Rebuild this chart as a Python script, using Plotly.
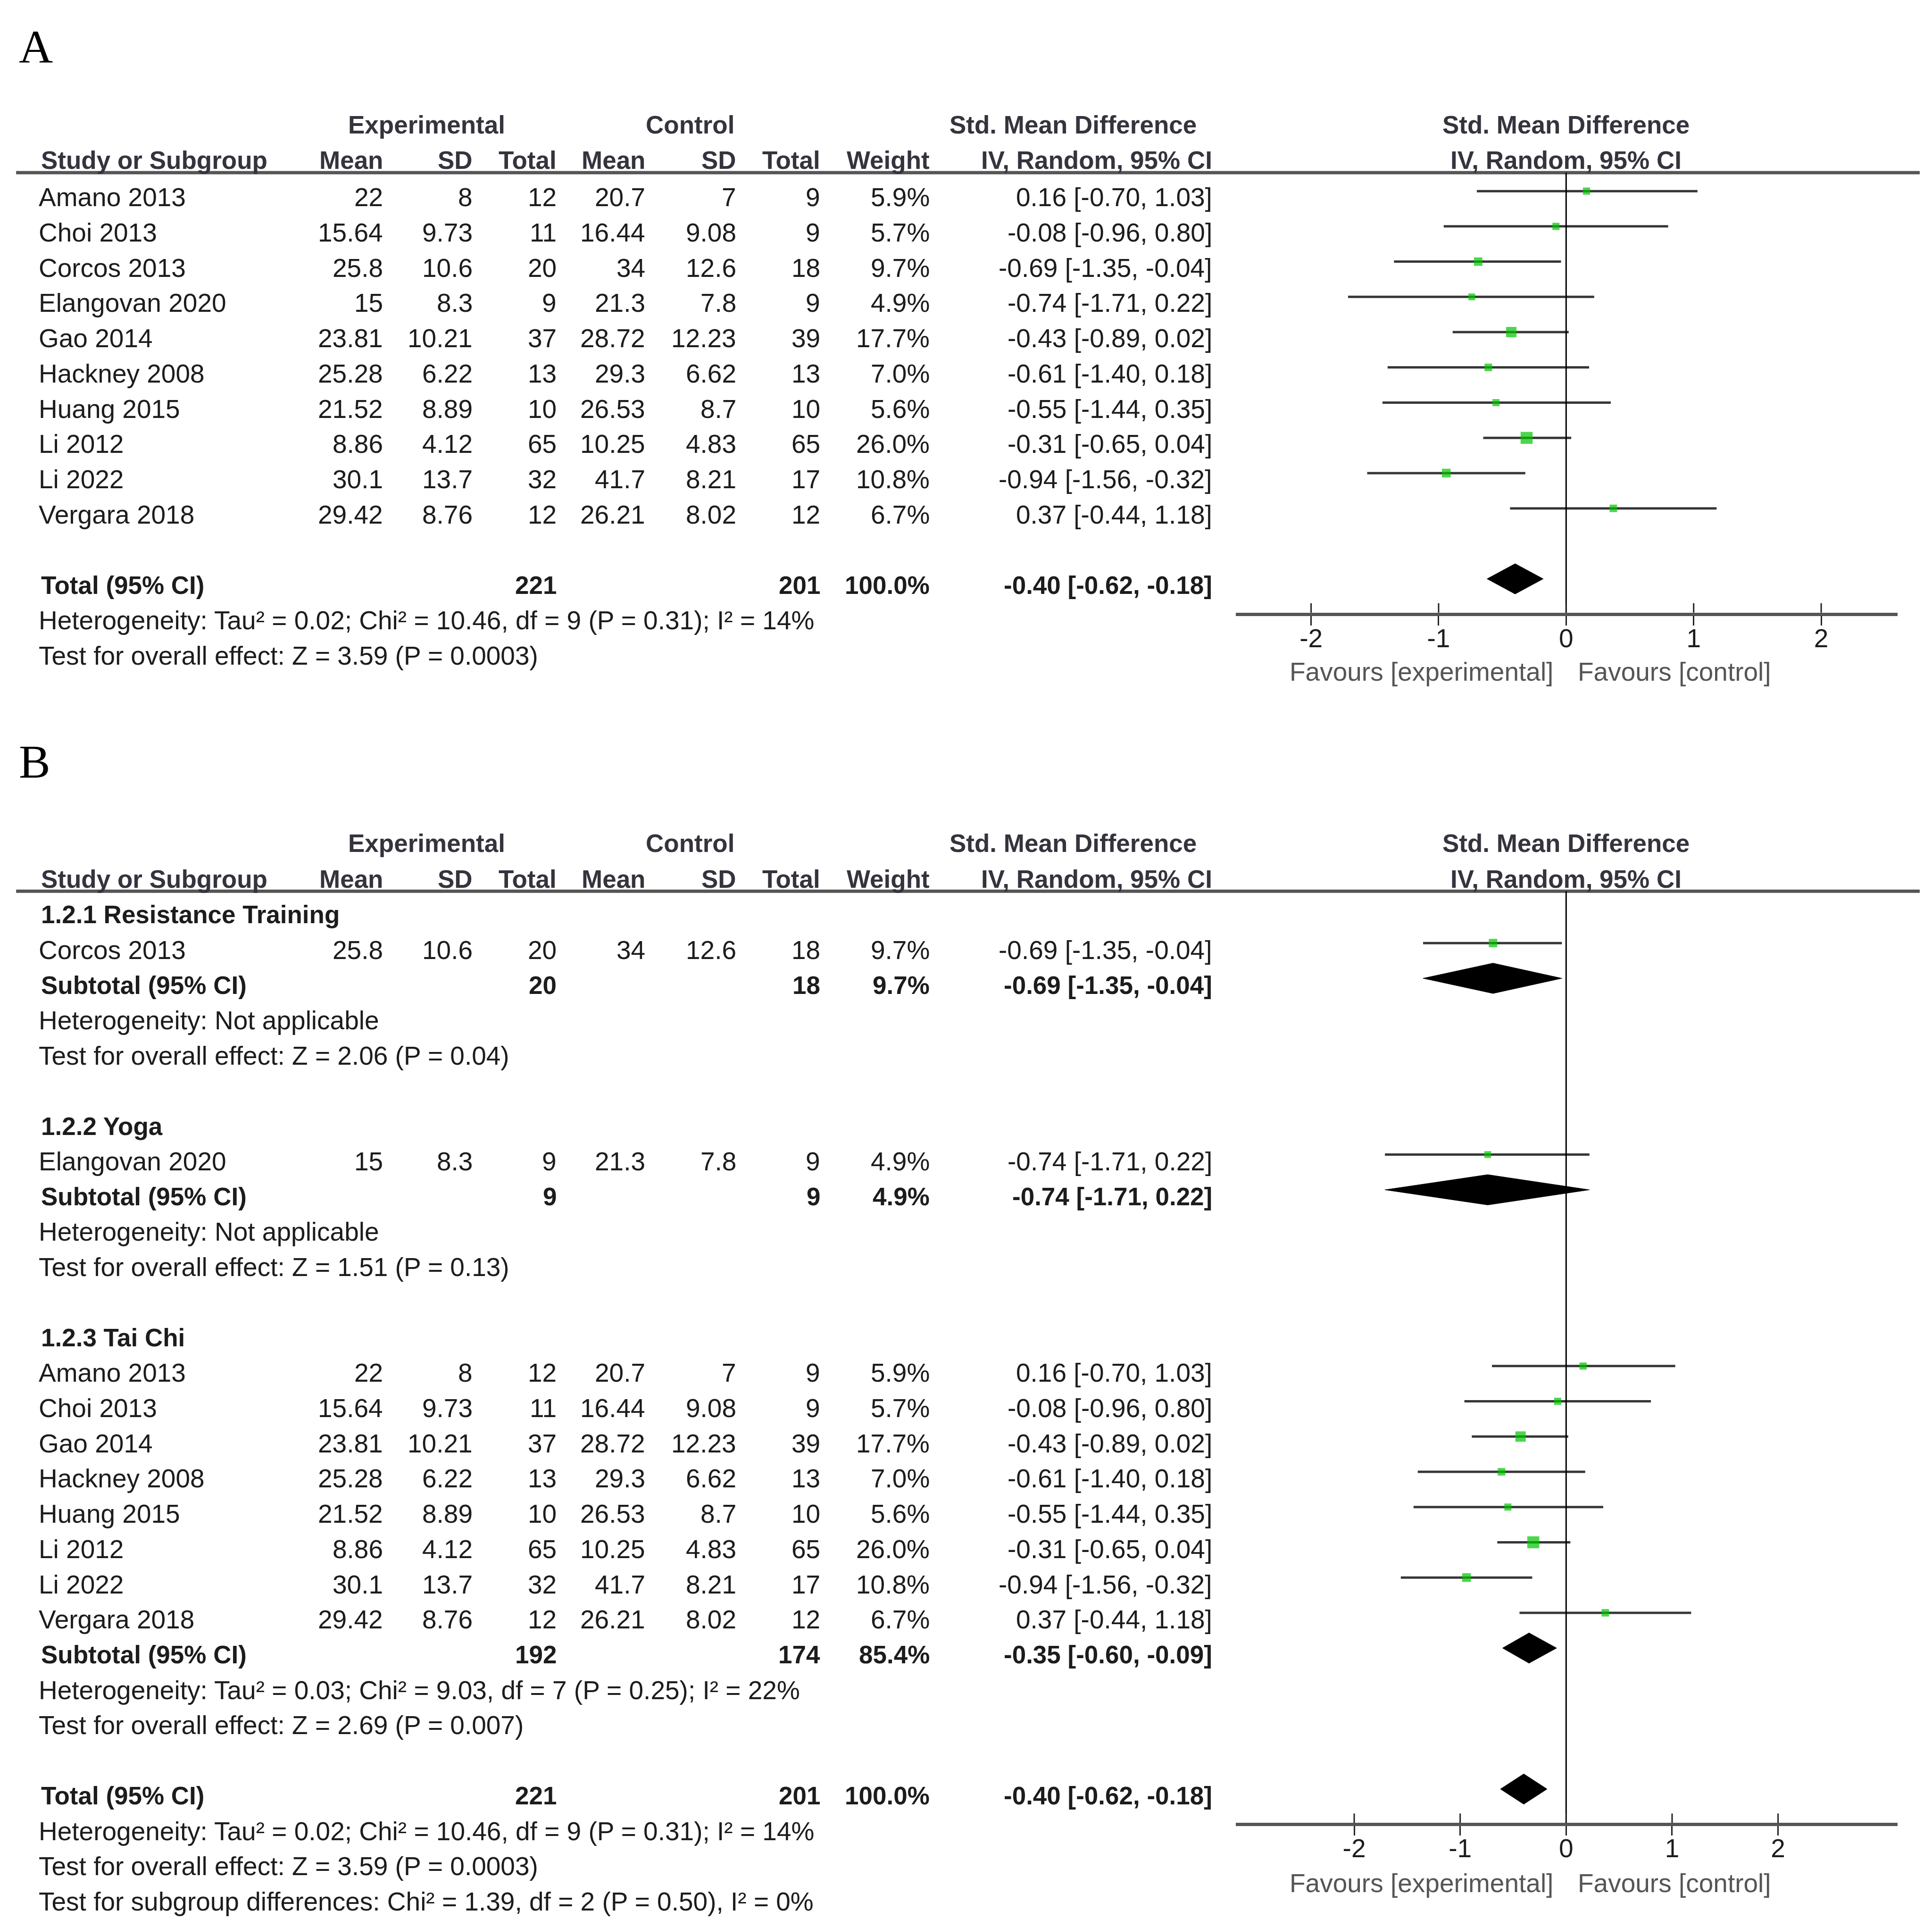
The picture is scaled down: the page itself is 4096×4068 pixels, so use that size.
import math
import plotly.graph_objects as go

# ---------------- data ----------------
studies = ["Amano 2013", "Choi 2013", "Corcos 2013", "Elangovan 2020", "Gao 2014",
           "Hackney 2008", "Huang 2015", "Li 2012", "Li 2022", "Vergara 2018"]
exp_mean = [22, 15.64, 25.8, 15, 23.81, 25.28, 21.52, 8.86, 30.1, 29.42]
exp_sd = [8, 9.73, 10.6, 8.3, 10.21, 6.22, 8.89, 4.12, 13.7, 8.76]
exp_n = [12, 11, 20, 9, 37, 13, 10, 65, 32, 12]
ctl_mean = [20.7, 16.44, 34, 21.3, 28.72, 29.3, 26.53, 10.25, 41.7, 26.21]
ctl_sd = [7, 9.08, 12.6, 7.8, 12.23, 6.62, 8.7, 4.83, 8.21, 8.02]
ctl_n = [9, 9, 18, 9, 39, 13, 10, 65, 17, 12]
weight = [5.9, 5.7, 9.7, 4.9, 17.7, 7.0, 5.6, 26.0, 10.8, 6.7]
smd = [0.16, -0.08, -0.69, -0.74, -0.43, -0.61, -0.55, -0.31, -0.94, 0.37]
smd_lo = [-0.70, -0.96, -1.35, -1.71, -0.89, -1.40, -1.44, -0.65, -1.56, -0.44]
smd_hi = [1.03, 0.80, -0.04, 0.22, 0.02, 0.18, 0.35, 0.04, -0.32, 1.18]

groups = ["1.2.1 Resistance Training", "1.2.2 Yoga", "1.2.3 Tai Chi"]
group_members = [["Corcos 2013"], ["Elangovan 2020"],
                 ["Amano 2013", "Choi 2013", "Gao 2014", "Hackney 2008", "Huang 2015",
                  "Li 2012", "Li 2022", "Vergara 2018"]]
sub_exp_n = [20, 9, 192]
sub_ctl_n = [18, 9, 174]
sub_weight = [9.7, 4.9, 85.4]
sub_smd = [-0.69, -0.74, -0.35]
sub_lo = [-1.35, -1.71, -0.60]
sub_hi = [-0.04, 0.22, -0.09]
sub_het = ["Heterogeneity: Not applicable",
           "Heterogeneity: Not applicable",
           "Heterogeneity: Tau² = 0.03; Chi² = 9.03, df = 7 (P = 0.25); I² = 22%"]
sub_test = ["Test for overall effect: Z = 2.06 (P = 0.04)",
            "Test for overall effect: Z = 1.51 (P = 0.13)",
            "Test for overall effect: Z = 2.69 (P = 0.007)"]

total_exp_n = 221
total_ctl_n = 201
total_weight = 100.0
total_smd = -0.40
total_lo = -0.62
total_hi = -0.18
total_het = "Heterogeneity: Tau² = 0.02; Chi² = 10.46, df = 9 (P = 0.31); I² = 14%"
total_test = "Test for overall effect: Z = 3.59 (P = 0.0003)"
subgroup_test = "Test for subgroup differences: Chi² = 1.39, df = 2 (P = 0.50), I² = 0%"

tick_vals = [-2, -1, 0, 1, 2]
tick_text = ["-2", "-1", "0", "1", "2"]
favours = ["Favours [experimental]", "Favours [control]"]
panel_labels = ["A", "B"]

# ---------------- geometry (reference design grid 1568 x 1557) ----------------
W, H = 4096, 4068
GW, GH = 1568.0, 1557.0


def px(x):
    return x / GW


def py(y):
    return 1 - y / GH


FONT = "Liberation Sans, Arial, sans-serif"
REG = 55
BOLD = 53
TXT = "#1c1c1c"
HDR = "#34343e"
GREEN = "#00c400"
ROW = 28.6
DIA = 0.43

COL = dict(em=308, esd=381, en=449, cm=521, csd=595, cn=663, w=752, ci=981)

annotations = []
shapes = []


def T(x, y, s, anchor="left", bold=False, size=None, color=TXT, family=FONT):
    annotations.append(dict(
        x=px(x), y=py(y), xref="paper", yref="paper",
        text=f"<b>{s}</b>" if bold else s, showarrow=False,
        xanchor=anchor, yanchor="middle", borderpad=0,
        font=dict(family=family, size=size or (BOLD if bold else REG), color=color)))


def g(v):
    return f"{v:g}"


def ci(e, l, h):
    return f"{e:.2f} [{l:.2f}, {h:.2f}]"


def header(y0):
    T(343, y0, "Experimental", "center", True, color=HDR)
    T(557, y0, "Control", "center", True, color=HDR)
    T(868, y0, "Std. Mean Difference", "center", True, color=HDR)
    T(1268, y0, "Std. Mean Difference", "center", True, color=HDR)
    y1 = y0 + 29
    T(30, y1, "Study or Subgroup", "left", True, color=HDR)
    for key, lab in [("em", "Mean"), ("esd", "SD"), ("en", "Total"), ("cm", "Mean"),
                     ("csd", "SD"), ("cn", "Total"), ("w", "Weight"),
                     ("ci", "IV, Random, 95% CI")]:
        T(COL[key], y1, lab, "right", True, color=HDR)
    T(1268, y1, "IV, Random, 95% CI", "center", True, color=HDR)
    shapes.append(dict(type="line", xref="paper", yref="paper", x0=px(10), x1=px(1555),
                       y0=py(y0 + 39), y1=py(y0 + 39), line=dict(color="#555555", width=7)))


def study_row(y, i):
    T(28, y, studies[i])
    T(COL["em"], y, g(exp_mean[i]), "right")
    T(COL["esd"], y, g(exp_sd[i]), "right")
    T(COL["en"], y, g(exp_n[i]), "right")
    T(COL["cm"], y, g(ctl_mean[i]), "right")
    T(COL["csd"], y, g(ctl_sd[i]), "right")
    T(COL["cn"], y, g(ctl_n[i]), "right")
    T(COL["w"], y, f"{weight[i]:.1f}%", "right")
    T(COL["ci"], y, ci(smd[i], smd_lo[i], smd_hi[i]), "right")


def summary_row(y, label, en, cn, w, e, l, h):
    T(30, y, label, "left", True)
    T(COL["en"], y, g(en), "right", True)
    T(COL["cn"], y, g(cn), "right", True)
    T(COL["w"], y, f"{w:.1f}%", "right", True)
    T(COL["ci"], y, ci(e, l, h), "right", True)


fig = go.Figure()


def forest(xa, ya, rows, est, lo, hi, w, diamonds):
    xs, ys = [], []
    for r, l, h in zip(rows, lo, hi):
        xs += [l, h, None]
        ys += [r, r, None]
    fig.add_trace(go.Scatter(x=xs, y=ys, mode="lines", xaxis=xa, yaxis=ya,
                             line=dict(color="#363636", width=5), hoverinfo="skip"))
    fig.add_trace(go.Scatter(x=est, y=rows, mode="markers", xaxis=xa, yaxis=ya,
                             marker=dict(symbol="square", color=GREEN,
                                         size=[3.8 * math.sqrt(v) + 6 for v in w],
                                         line=dict(width=0))))
    for r, e, l, h in diamonds:
        fig.add_trace(go.Scatter(x=[l, e, h, e, l], y=[r, r - DIA, r, r + DIA, r],
                                 mode="lines", fill="toself", fillcolor="black",
                                 line=dict(color="black", width=1), xaxis=xa, yaxis=ya))


# ---------------- panel A ----------------
T(12, 35, panel_labels[0], "left", size=100, color="black",
  family="Liberation Serif, Times New Roman, serif")
header(98)
A0 = 157
for i in range(len(studies)):
    study_row(A0 + ROW * i, i)
summary_row(A0 + ROW * 11, "Total (95% CI)", total_exp_n, total_ctl_n, total_weight,
            total_smd, total_lo, total_hi)
T(28, A0 + ROW * 12, total_het)
T(28, A0 + ROW * 13, total_test)

forest("x", "y", list(range(len(studies))), smd, smd_lo, smd_hi, weight,
       [(11, total_smd, total_lo, total_hi)])

# ---------------- panel B ----------------
T(12, 615, panel_labels[1], "left", size=100, color="black",
  family="Liberation Serif, Times New Roman, serif")
header(681)
B0 = 739
r = 0
b_rows, b_est, b_lo, b_hi, b_w, b_dia = [], [], [], [], [], []
for gi, gname in enumerate(groups):
    T(30, B0 + ROW * r, gname, "left", True)
    r += 1
    for name in group_members[gi]:
        i = studies.index(name)
        study_row(B0 + ROW * r, i)
        b_rows.append(r)
        b_est.append(smd[i])
        b_lo.append(smd_lo[i])
        b_hi.append(smd_hi[i])
        b_w.append(weight[i])
        r += 1
    summary_row(B0 + ROW * r, "Subtotal (95% CI)", sub_exp_n[gi], sub_ctl_n[gi],
                sub_weight[gi], sub_smd[gi], sub_lo[gi], sub_hi[gi])
    b_dia.append((r, sub_smd[gi], sub_lo[gi], sub_hi[gi]))
    r += 1
    T(28, B0 + ROW * r, sub_het[gi])
    r += 1
    T(28, B0 + ROW * r, sub_test[gi])
    r += 2
summary_row(B0 + ROW * r, "Total (95% CI)", total_exp_n, total_ctl_n, total_weight,
            total_smd, total_lo, total_hi)
b_dia.append((r, total_smd, total_lo, total_hi))
T(28, B0 + ROW * (r + 1), total_het)
T(28, B0 + ROW * (r + 2), total_test)
T(28, B0 + ROW * (r + 3), subgroup_test)

forest("x2", "y2", b_rows, b_est, b_lo, b_hi, b_w, b_dia)

# ---------------- forest axes ----------------
def xaxis_cfg(zero, unit, yname):
    return dict(domain=[px(1000), px(1537)], range=[(1000 - zero) / unit, (1537 - zero) / unit],
                anchor=yname, showgrid=False, zeroline=False, showline=True,
                linecolor="#555555", linewidth=7, ticks="outside", ticklen=20, tickwidth=3,
                tickcolor="#222222", tickvals=tick_vals, ticktext=tick_text,
                ticklabelstandoff=-20,
                tickfont=dict(family=FONT, size=REG, color=TXT), fixedrange=True)


def yaxis_cfg(top, bottom, first):
    return dict(domain=[py(bottom), py(top)],
                range=[(bottom - first) / ROW, (top - first) / ROW],
                visible=False, showgrid=False, zeroline=False, fixedrange=True)


layout_axes = dict(
    xaxis=xaxis_cfg(1268, 103.5, "y"),
    yaxis=yaxis_cfg(137, 494, 152),
    xaxis2=xaxis_cfg(1268, 86.0, "y2"),
    yaxis2=yaxis_cfg(720, 1476, 733.5),
)

for xa, ya, axis_y in [("x", "y", 494), ("x2", "y2", 1476)]:
    shapes.append(dict(type="line", xref=xa, yref=f"{ya} domain", x0=0, x1=0, y0=0, y1=1,
                       line=dict(color="black", width=3)))
    for tv in tick_vals:
        shapes.append(dict(type="line", xref=xa, yref="paper", x0=tv, x1=tv,
                           y0=py(axis_y), y1=py(axis_y) + 20 / H,
                           line=dict(color="#222222", width=3)))
    fav_y = 542 if xa == "x" else 1525
    T(1258, fav_y, favours[0], "right", color="#555555")
    T(1277, fav_y, favours[1], "left", color="#555555")

fig.update_layout(
    width=W, height=H, margin=dict(l=0, r=0, t=0, b=0),
    paper_bgcolor="white", plot_bgcolor="white", showlegend=False,
    annotations=annotations, shapes=shapes, **layout_axes)

fig.write_html("out.html")
